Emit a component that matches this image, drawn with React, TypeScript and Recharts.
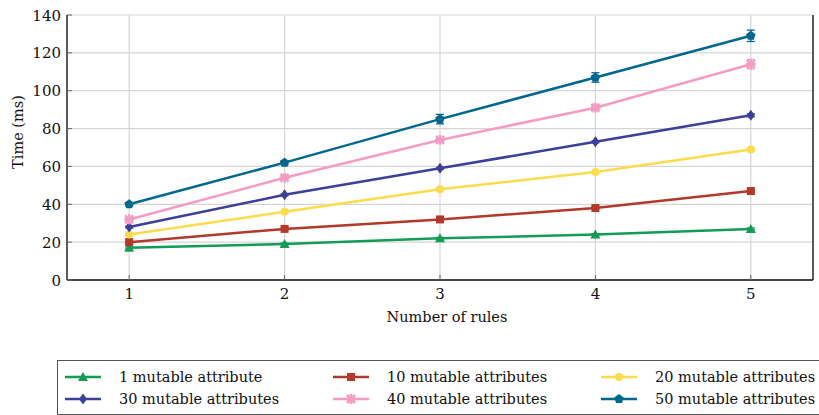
import React from 'react';
import { LineChart, Line, XAxis, YAxis, CartesianGrid, ErrorBar } from 'recharts';

const rules = [1, 2, 3, 4, 5];
const yTicks = [0, 10, 20, 30, 40, 50, 60, 70, 80, 90, 100, 110, 120, 130, 140];

const attr1 = [17, 19, 22, 24, 27];
const attr10 = [20, 27, 32, 38, 47];
const attr20 = [24, 36, 48, 57, 69];
const attr30 = [28, 45, 59, 73, 87];
const attr40 = [32, 54, 74, 91, 114];
const attr50 = [40, 62, 85, 107, 129];

const err1 = [0.5, 0.5, 0.5, 0.5, 0.5];
const err10 = [0.5, 0.5, 0.5, 0.5, 0.5];
const err20 = [0.5, 0.5, 0.5, 0.5, 0.8];
const err30 = [0.5, 0.5, 0.5, 0.5, 0.8];
const err40 = [0.8, 0.8, 0.8, 1, 2.5];
const err50 = [0.8, 1, 2.5, 2.5, 3];

const series = [
  { key: 's1', name: '1 mutable attribute', values: attr1, errors: err1, color: '#129c56', shape: 'triangle' },
  { key: 's10', name: '10 mutable attributes', values: attr10, errors: err10, color: '#b3392a', shape: 'square' },
  { key: 's20', name: '20 mutable attributes', values: attr20, errors: err20, color: '#fbdc4a', shape: 'circle' },
  { key: 's30', name: '30 mutable attributes', values: attr30, errors: err30, color: '#3c3f9b', shape: 'diamond' },
  { key: 's40', name: '40 mutable attributes', values: attr40, errors: err40, color: '#f49cc4', shape: 'star' },
  { key: 's50', name: '50 mutable attributes', values: attr50, errors: err50, color: '#00688f', shape: 'pentagon' },
];

const data = rules.map((r, i) => {
  const row: Record<string, number> = { rule: r };
  series.forEach((s) => {
    row[s.key] = s.values[i];
    row[s.key + 'Err'] = s.errors[i];
  });
  return row;
});

const FONT = "'DejaVu Serif', serif";
const PLOT_L = 67;
const PLOT_R = 813;
const PLOT_T = 15;
const PLOT_B = 280;

function Marker({ cx, cy, color, shape }: { cx: number; cy: number; color: string; shape: string }) {
  if (shape === 'triangle') {
    return <polygon points={`${cx},${cy - 5} ${cx - 5},${cy + 4} ${cx + 5},${cy + 4}`} fill={color} />;
  }
  if (shape === 'square') {
    return <rect x={cx - 4} y={cy - 4} width={8} height={8} fill={color} />;
  }
  if (shape === 'circle') {
    return <circle cx={cx} cy={cy} r={4} fill={color} />;
  }
  if (shape === 'diamond') {
    return <polygon points={`${cx},${cy - 5.5} ${cx + 4},${cy} ${cx},${cy + 5.5} ${cx - 4},${cy}`} fill={color} />;
  }
  if (shape === 'star') {
    return (
      <g stroke={color} strokeWidth={2.5}>
        <line x1={cx - 5} y1={cy} x2={cx + 5} y2={cy} />
        <line x1={cx} y1={cy - 5} x2={cx} y2={cy + 5} />
        <line x1={cx - 4} y1={cy - 4} x2={cx + 4} y2={cy + 4} />
        <line x1={cx - 4} y1={cy + 4} x2={cx + 4} y2={cy - 4} />
      </g>
    );
  }
  const pts = [0, 1, 2, 3, 4]
    .map((k) => {
      const a = -Math.PI / 2 + (k * 2 * Math.PI) / 5;
      return `${cx + 5 * Math.cos(a)},${cy + 5 * Math.sin(a)}`;
    })
    .join(' ');
  return <polygon points={pts} fill={color} />;
}

const LeftTick = (p: any) => (
  <g>
    <line x1={PLOT_L} x2={PLOT_L + 5} y1={p.y} y2={p.y} stroke="#666" />
    {p.payload.value % 20 === 0 && (
      <text x={PLOT_L - 6} y={p.y} dy={5.5} textAnchor="end" style={{ fontFamily: FONT }} fontSize={15} fill="#111">
        {p.payload.value}
      </text>
    )}
  </g>
);

const RightTick = (p: any) => (
  <line x1={PLOT_R - 5} x2={PLOT_R} y1={p.y} y2={p.y} stroke="#666" />
);

const BottomTick = (p: any) => (
  <g>
    <line x1={p.x} x2={p.x} y1={PLOT_B - 5} y2={PLOT_B} stroke="#666" />
    <text x={p.x} y={PLOT_B + 19} textAnchor="middle" style={{ fontFamily: FONT }} fontSize={15} fill="#111">
      {p.payload.value}
    </text>
  </g>
);

const TopTick = (p: any) => (
  <line x1={p.x} x2={p.x} y1={PLOT_T} y2={PLOT_T + 5} stroke="#666" />
);

const XLabel = () => (
  <text x={(PLOT_L + PLOT_R) / 2 + 7} y={322} textAnchor="middle" style={{ fontFamily: FONT }} fontSize={14.5} fill="#111">
    Number of rules
  </text>
);

const YLabel = () => (
  <text
    x={23}
    y={132}
    transform="rotate(-90, 23, 132)"
    textAnchor="middle"
    style={{ fontFamily: FONT }}
    fontSize={14.5}
    fill="#111"
  >
    Time (ms)
  </text>
);

function LegendBox() {
  const cols = [65, 333, 601];
  return (
    <div
      style={{
        position: 'absolute',
        left: 57,
        top: 360,
        width: 780,
        height: 55,
        border: '1px solid #555',
        boxSizing: 'border-box',
        fontFamily: FONT,
        fontSize: 14.5,
        color: '#111',
      }}
    >
      {series.map((s, i) => {
        const col = i % 3;
        const row = Math.floor(i / 3);
        return (
          <div
            key={s.key}
            style={{ position: 'absolute', left: cols[col] - 58, top: 6 + row * 22, height: 20, display: 'flex', alignItems: 'center' }}
          >
            <svg width={36} height={14}>
              <line x1={0} x2={36} y1={7} y2={7} stroke={s.color} strokeWidth={2.5} />
              <Marker cx={18} cy={7} color={s.color} shape={s.shape} />
            </svg>
            <span style={{ marginLeft: 18, whiteSpace: 'nowrap' }}>{s.name}</span>
          </div>
        );
      })}
    </div>
  );
}

export default function App() {
  return (
    <div style={{ position: 'absolute', left: 0, top: 0, width: 819, height: 415, background: '#fff', overflow: 'hidden' }}>
      <LineChart width={819} height={415} data={data} margin={{ top: PLOT_T, right: 0, left: 0, bottom: 0 }}>
        <CartesianGrid stroke="#d6d6d6" strokeWidth={1.2} />
        <XAxis
          dataKey="rule"
          type="number"
          domain={[0.6, 5.4]}
          ticks={rules}
          height={415 - PLOT_B}
          axisLine={{ stroke: '#111', strokeWidth: 1.3 }}
          tickLine={false}
          tick={BottomTick}
          label={{ content: XLabel }}
        />
        <XAxis
          xAxisId="t"
          dataKey="rule"
          type="number"
          orientation="top"
          domain={[0.6, 5.4]}
          ticks={rules}
          height={0}
          axisLine={{ stroke: '#111', strokeWidth: 1.3 }}
          tickLine={false}
          tick={TopTick}
        />
        <YAxis
          type="number"
          domain={[0, 140]}
          ticks={yTicks}
          width={PLOT_L}
          axisLine={{ stroke: '#111', strokeWidth: 1.3 }}
          tickLine={false}
          tick={LeftTick}
          label={{ content: YLabel }}
        />
        <YAxis
          yAxisId="r"
          type="number"
          orientation="right"
          domain={[0, 140]}
          ticks={yTicks}
          width={819 - PLOT_R}
          axisLine={{ stroke: '#111', strokeWidth: 1.3 }}
          tickLine={false}
          tick={RightTick}
        />
        {series.map((s) => (
          <Line
            key={s.key}
            dataKey={s.key}
            name={s.name}
            stroke={s.color}
            strokeWidth={2.5}
            isAnimationActive={false}
            dot={(p: any) => <Marker key={`${s.key}-${p.index}`} cx={p.cx} cy={p.cy} color={s.color} shape={s.shape} />}
            activeDot={false}
          >
            <ErrorBar dataKey={s.key + 'Err'} width={4} stroke={s.color} strokeWidth={1.3} direction="y" />
          </Line>
        ))}
      </LineChart>
      <LegendBox />
    </div>
  );
}
